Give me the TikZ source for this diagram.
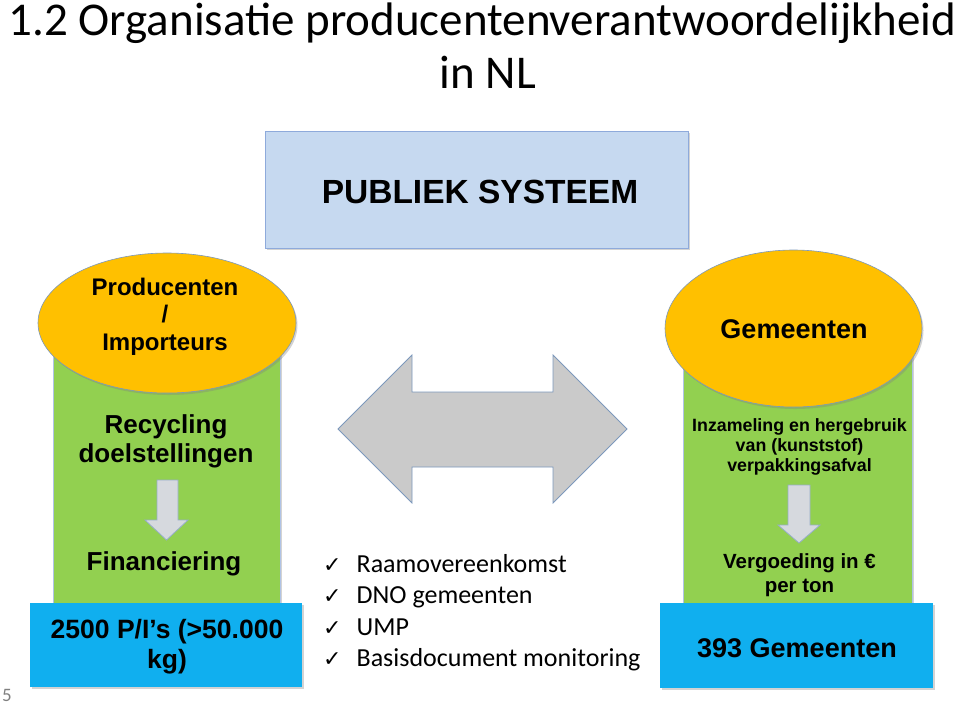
\documentclass[tikz,border=0pt]{standalone}
\usepackage{fontspec}
\setmainfont{Carlito}
\newfontfamily\arialb{Liberation Sans}[BoldFont={Liberation Sans Bold}]
\newfontfamily\dejavu{DejaVu Sans}
\usetikzlibrary{shapes.geometric,shadows}
\definecolor{cgreen}{HTML}{92D050}
\definecolor{corange}{HTML}{FFC000}
\definecolor{cblue}{HTML}{10AFEF}
\definecolor{clblue}{HTML}{C6D9F0}
\definecolor{cbord}{HTML}{8EAADB}
\definecolor{cgray}{HTML}{CACACA}
\definecolor{cgrayb}{HTML}{7C98BC}
\definecolor{clgray}{HTML}{D6D9DE}
\tikzset{
  shad/.style={drop shadow={opacity=0.35,shadow xshift=1.5pt,shadow yshift=-2pt}},
  greenbox/.style={rectangle,draw=cbord!70,line width=0.6pt,fill=cgreen,inner sep=0pt,shad},
  bluebox/.style={rectangle,draw=none,fill=cblue,inner sep=0pt,shad},
  ovalbox/.style={ellipse,draw=cgrayb,line width=0.6pt,fill=corange,inner sep=0pt,shad},
  pubbox/.style={rectangle,draw=cbord,line width=0.8pt,fill=clblue,inner sep=0pt,shad},
  bt/.style={anchor=base,inner sep=0pt,font=\arialb\bfseries},
  title/.style={anchor=base,inner sep=0pt,font=\fontsize{47}{50}\selectfont},
  chk/.style={anchor=base west,inner sep=0pt,font=\fontsize{26}{30}\selectfont},
  downarrow/.style={fill=clgray,draw=cgrayb!80,line width=0.8pt,line join=miter},
  bigarrow/.style={fill=cgray,draw=cgrayb,line width=0.8pt,line join=miter}
}
\newcommand{\tick}{{\dejavu\fontsize{22}{24}\selectfont ✓}\hspace{15pt}}
\begin{document}
\begin{tikzpicture}[x=1pt,y=-1pt]
\useasboundingbox (0,0) rectangle (960,705);
% title
\node[title] (t1) at (482.5,35) {1.2 Organisatie producentenverantwoordelijkheid};
\node[title] (t2) at (488,88) {in NL};
% publiek systeem
\node[pubbox,minimum width=423pt,minimum height=117pt] (pub) at (476.5,189.5) {};
\node[bt,font=\arialb\bfseries\fontsize{33.5}{36}\selectfont] (pubt) at (480,203) {PUBLIEK SYSTEEM};
% left column
\node[greenbox,minimum width=227pt,minimum height=273pt] (lg) at (166.5,466.5) {};
\node[ovalbox,minimum width=258pt,minimum height=140pt] (lo) at (167,323) {};
\node[bluebox,minimum width=272pt,minimum height=84pt] (lb) at (166,645) {};
\node[bt,font=\arialb\bfseries\fontsize{24}{26}\selectfont] (lo1) at (165,295) {Producenten};
\node[bt,font=\arialb\bfseries\fontsize{24}{26}\selectfont] (lo2) at (165,322) {/};
\node[bt,font=\arialb\bfseries\fontsize{24}{26}\selectfont] (lo3) at (165,350) {Importeurs};
\node[bt,font=\arialb\bfseries\fontsize{26}{28}\selectfont] (lg1) at (166,433) {Recycling};
\node[bt,font=\arialb\bfseries\fontsize{26}{28}\selectfont] (lg2) at (166,462) {doelstellingen};
\node[bt,font=\arialb\bfseries\fontsize{26}{28}\selectfont] (lg3) at (164,570) {Financiering};
\node[bt,font=\arialb\bfseries\fontsize{26.5}{28}\selectfont] (lb1) at (167,638) {2500 P/I’s (>50.000};
\node[bt,font=\arialb\bfseries\fontsize{26.5}{28}\selectfont] (lb2) at (167,668) {kg)};
\draw[downarrow] (157,480) -- (178,480) -- (178,520) -- (188,520) -- (166.5,540) -- (145,520) -- (157,520) -- cycle;
% right column
\node[greenbox,minimum width=229pt,minimum height=263pt] (rg) at (797.5,471.5) {};
\node[ovalbox,minimum width=257pt,minimum height=157pt] (ro) at (793.5,328.5) {};
\node[bluebox,minimum width=273pt,minimum height=85pt] (rb) at (796.5,645.5) {};
\node[bt,font=\arialb\bfseries\fontsize{27}{29}\selectfont] (ro1) at (794,338) {Gemeenten};
\node[bt,font=\arialb\bfseries\fontsize{17.8}{20}\selectfont] (rg1) at (799.5,431) {Inzameling en hergebruik};
\node[bt,font=\arialb\bfseries\fontsize{17.8}{20}\selectfont] (rg2) at (799.5,451) {van (kunststof)};
\node[bt,font=\arialb\bfseries\fontsize{17.8}{20}\selectfont] (rg3) at (799.5,471) {verpakkingsafval};
\node[bt,font=\arialb\bfseries\fontsize{20.5}{22}\selectfont] (rg4) at (799.5,568) {Vergoeding in €};
\node[bt,font=\arialb\bfseries\fontsize{20.5}{22}\selectfont] (rg5) at (799.5,592) {per ton};
\node[bt,font=\arialb\bfseries\fontsize{27}{29}\selectfont] (rb1) at (797,657) {393 Gemeenten};
\draw[downarrow] (788,485) -- (810,485) -- (810,525) -- (820,525) -- (799,543) -- (778,525) -- (788,525) -- cycle;
% big double arrow
\draw[bigarrow] (338,429) -- (412,355) -- (412,392) -- (553,392) -- (553,355) -- (627,429) -- (553,503) -- (553,467) -- (412,467) -- (412,503) -- cycle;
% checklist
\node[chk] (c1) at (323,572) {\tick Raamovereenkomst};
\node[chk] (c2) at (323,603.5) {\tick DNO gemeenten};
\node[chk] (c3) at (323,635) {\tick UMP};
\node[chk] (c4) at (323,666.5) {\tick Basisdocument monitoring};
% slide number
\node[anchor=base west,inner sep=0pt,text=gray,font=\fontsize{19}{20}\selectfont] (num) at (2,701.5) {5};
\end{tikzpicture}
\end{document}
